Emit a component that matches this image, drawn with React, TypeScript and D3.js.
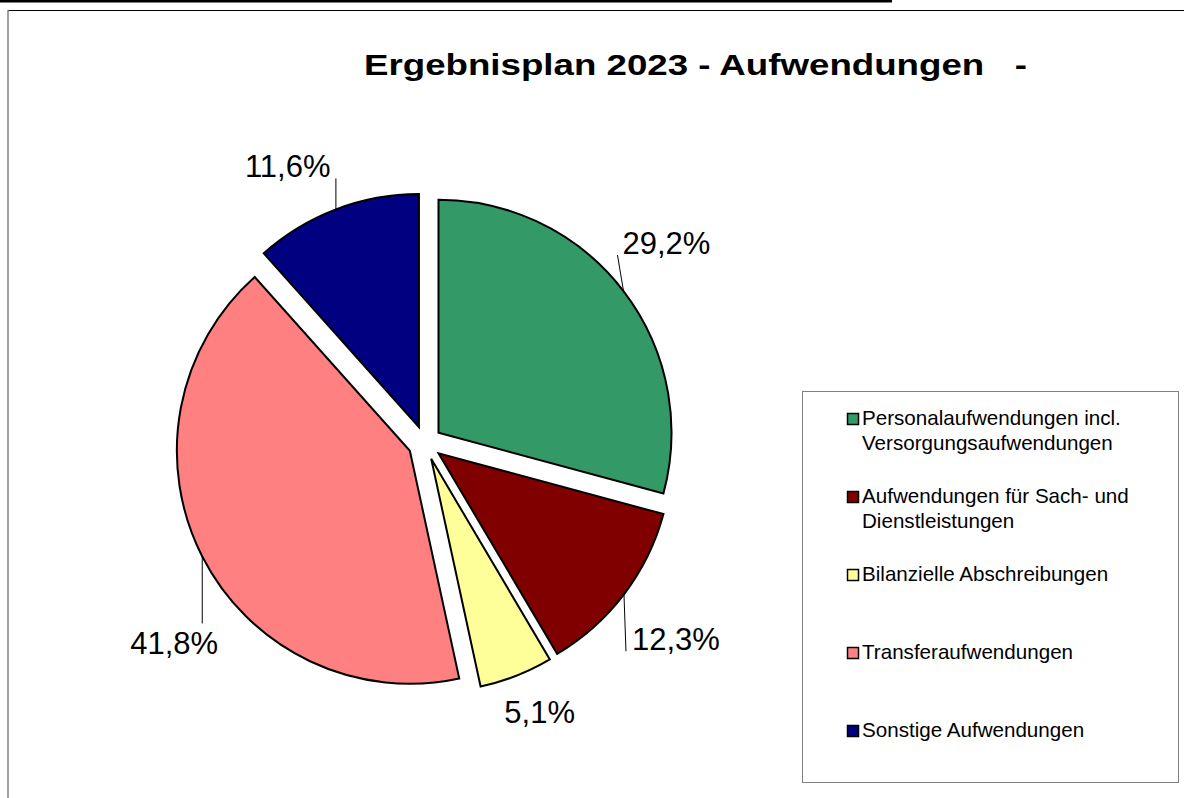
import React from "react";
import * as d3 from "d3";

const categories = [
  "Personalaufwendungen incl. Versorgungsaufwendungen",
  "Aufwendungen für Sach- und Dienstleistungen",
  "Bilanzielle Abschreibungen",
  "Transferaufwendungen",
  "Sonstige Aufwendungen",
];
const legendLines = [
  ["Personalaufwendungen incl.", "Versorgungsaufwendungen"],
  ["Aufwendungen für Sach- und", "Dienstleistungen"],
  ["Bilanzielle Abschreibungen"],
  ["Transferaufwendungen"],
  ["Sonstige Aufwendungen"],
];
const shares = [29.2, 12.3, 5.1, 41.8, 11.6];
const labels = ["29,2%", "12,3%", "5,1%", "41,8%", "11,6%"];
const colors = ["#339966", "#800000", "#FFFF99", "#FF8080", "#000080"];
const title = "Ergebnisplan 2023 - Aufwendungen   -";

// layout: label text start/baseline offset from the slice's arc midpoint, and leader end offset
const labelLayout = [
  { dx: -1, dy: -37, lx: -6, ly: -36, leader: true },
  { dx: 8, dy: 56, lx: 2, ly: 57, leader: true },
  { dx: -12, dy: 47, lx: 0, ly: 0, leader: false },
  { dx: -72, dy: 98, lx: 0, ly: 67, leader: true },
  { dx: -91, dy: -32, lx: 0, ly: -31, leader: true },
];

const W = 1184;
const H = 798;
const FONT = "'Liberation Sans', Arial, Helvetica, sans-serif";

export default function App() {
  const cx = 425;
  const cy = 443;
  const R = 233;
  const explode = 17;

  const pie = d3
    .pie<number>()
    .sort(null)
    .value((d) => d)
    .startAngle(0)
    .endAngle(2 * Math.PI);
  const arcs = pie(shares);
  const arc = d3.arc<d3.PieArcDatum<number>>().innerRadius(0).outerRadius(R);

  const legendY = d3
    .scaleLinear()
    .domain([0, categories.length - 1])
    .range([425, 737]);

  return (
    <svg
      width={W}
      height={H}
      style={{ position: "absolute", left: 0, top: 0, background: "#fff" }}
    >
      <rect x={0} y={0} width={892} height={2.5} fill="#000" />
      <line x1={8} y1={10.5} x2={W} y2={10.5} stroke="#000" strokeWidth={1} />
      <line x1={8} y1={10} x2={8} y2={H} stroke="#808080" strokeWidth={1.5} />

      <text
        x={364}
        y={75}
        textLength={663}
        lengthAdjust="spacingAndGlyphs"
        fontFamily={FONT}
        fontWeight="bold"
        fontSize={30}
        fill="#000"
        style={{ whiteSpace: "pre" }}
      >
        {title}
      </text>

      {arcs.map((a, i) => {
        const mid = (a.startAngle + a.endAngle) / 2;
        const ux = Math.sin(mid);
        const uy = -Math.cos(mid);
        const ox = cx + explode * ux;
        const oy = cy + explode * uy;
        const px = ox + R * ux;
        const py = oy + R * uy;
        const L = labelLayout[i];
        return (
          <g key={i}>
            <path
              d={arc(a) || ""}
              transform={`translate(${ox},${oy})`}
              fill={colors[i]}
              stroke="#000"
              strokeWidth={2}
              strokeLinejoin="miter"
            />
            {L.leader && (
              <line
                x1={px}
                y1={py}
                x2={px + L.lx}
                y2={py + L.ly}
                stroke="#000"
                strokeWidth={1}
              />
            )}
            <text
              x={px + L.dx}
              y={py + L.dy}
              fontFamily={FONT}
              fontSize={31}
              fill="#000"
            >
              {labels[i]}
            </text>
          </g>
        );
      })}

      <rect
        x={802.5}
        y={391.5}
        width={376}
        height={391}
        fill="#fff"
        stroke="#808080"
        strokeWidth={1}
      />
      {categories.map((c, i) => {
        const y = legendY(i);
        return (
          <g key={c}>
            <rect
              x={847.5}
              y={y - 11.5}
              width={11}
              height={11}
              fill={colors[i]}
              stroke="#000"
              strokeWidth={1.5}
            />
            <text x={862} y={y} fontFamily={FONT} fontSize={20.6} fill="#000">
              {legendLines[i].map((ln, j) => (
                <tspan key={j} x={862} y={y + j * 25}>
                  {ln}
                </tspan>
              ))}
            </text>
          </g>
        );
      })}
    </svg>
  );
}
